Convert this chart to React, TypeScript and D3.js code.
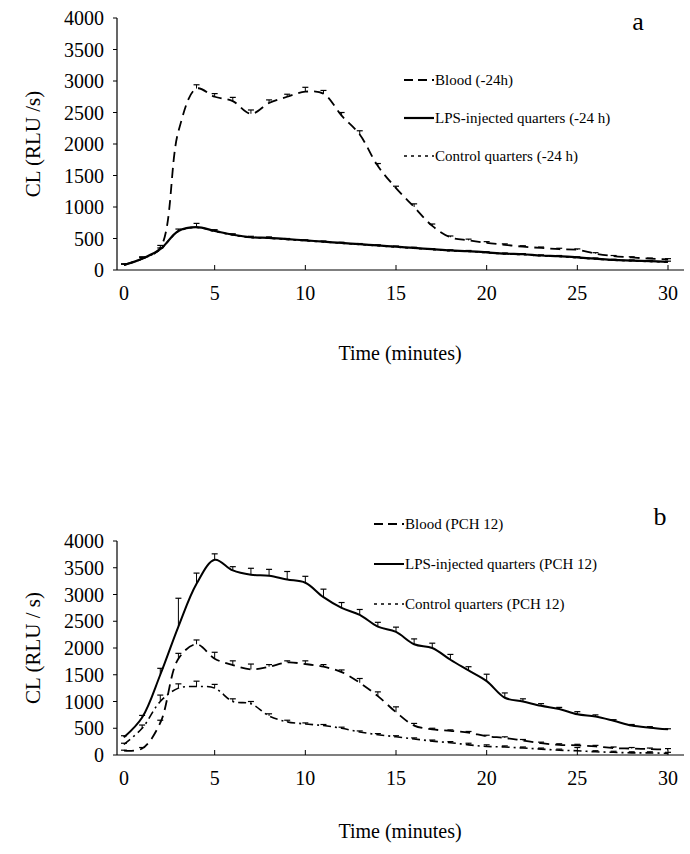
import React, { useEffect, useRef } from "react";
import * as d3 from "d3";

const minutes = d3.range(0, 31);

const bloodA = [80, 180, 350, 2200, 2880, 2750, 2680, 2480, 2650, 2750, 2830, 2800, 2450, 2150, 1650, 1300, 1000, 700, 520, 470, 430, 400, 370, 350, 330, 320, 260, 220, 200, 180, 170];
const bloodAErr = [20, 30, 40, 0, 60, 50, 60, 60, 50, 40, 70, 50, 50, 60, 40, 30, 50, 30, 20, 20, 20, 15, 15, 15, 15, 15, 15, 10, 10, 10, 10];
const lpsA = [80, 180, 330, 620, 680, 620, 560, 520, 510, 490, 470, 450, 430, 410, 390, 370, 350, 330, 310, 300, 280, 260, 250, 230, 220, 200, 180, 160, 150, 140, 130];
const lpsAErr = [10, 20, 20, 30, 60, 20, 15, 15, 15, 10, 10, 10, 10, 10, 10, 10, 10, 10, 10, 10, 10, 10, 10, 10, 10, 10, 10, 10, 10, 10, 10];
const ctrlA = [80, 175, 325, 615, 675, 615, 555, 515, 505, 485, 465, 445, 425, 405, 385, 365, 345, 325, 305, 295, 275, 255, 245, 225, 215, 195, 175, 155, 145, 135, 125];

const lpsB = [330, 700, 1500, 2400, 3200, 3650, 3450, 3370, 3350, 3280, 3220, 2950, 2750, 2620, 2400, 2300, 2070, 2000, 1780, 1580, 1380, 1070, 1000, 920, 860, 760, 720, 640, 550, 510, 480];
const lpsBErr = [30, 40, 120, 530, 200, 110, 70, 120, 120, 150, 120, 150, 100, 100, 80, 90, 100, 90, 100, 70, 130, 90, 50, 40, 30, 50, 30, 20, 20, 20, 10];
const bloodB = [80, 120, 600, 1800, 2070, 1800, 1680, 1600, 1650, 1730, 1700, 1650, 1550, 1350, 1100, 800, 550, 480, 450, 420, 350, 320, 270, 220, 190, 180, 160, 130, 120, 110, 100];
const bloodBErr = [10, 20, 50, 100, 80, 120, 80, 100, 40, 30, 60, 40, 40, 80, 80, 100, 40, 20, 20, 20, 20, 20, 20, 20, 20, 20, 20, 20, 20, 20, 20];
const ctrlB = [200, 500, 1000, 1250, 1280, 1250, 1000, 960, 730, 620, 580, 550, 500, 430, 380, 340, 300, 260, 230, 190, 160, 150, 130, 110, 90, 80, 60, 50, 40, 40, 30];
const ctrlBErr = [20, 60, 120, 80, 100, 70, 50, 40, 40, 30, 20, 20, 20, 20, 20, 20, 20, 20, 20, 30, 30, 20, 20, 20, 20, 60, 20, 20, 20, 20, 20];

const xTicks = [0, 5, 10, 15, 20, 25, 30];
const yTicks = [0, 500, 1000, 1500, 2000, 2500, 3000, 3500, 4000];

function panel(svg, cfg) {
  const x = d3.scaleLinear().domain([0, 30]).range([124, 668]);
  const y = d3.scaleLinear().domain([0, 4000]).range([cfg.y0, cfg.y4000]);
  const g = svg.append("g");

  g.append("line").attr("x1", 117).attr("x2", 684).attr("y1", cfg.y0).attr("y2", cfg.y0).attr("stroke", "#000").attr("stroke-width", 1.2);
  g.append("line").attr("x1", 117).attr("x2", 117).attr("y1", cfg.y0).attr("y2", y(4000)).attr("stroke", "#000").attr("stroke-width", 1.2);

  yTicks.forEach((t) => {
    g.append("line").attr("x1", 113).attr("x2", 117).attr("y1", y(t)).attr("y2", y(t)).attr("stroke", "#000");
    g.append("text").attr("x", 104).attr("y", y(t) + 7).attr("text-anchor", "end")
      .attr("font-size", 20).text(t);
  });
  xTicks.forEach((t, i) => {
    if (i > 0) g.append("line").attr("x1", x(t)).attr("x2", x(t)).attr("y1", cfg.y0).attr("y2", cfg.y0 - 5).attr("stroke", "#000");
    g.append("text").attr("x", x(t)).attr("y", cfg.y0 + 30).attr("text-anchor", "middle")
      .attr("font-size", 20).text(t);
  });

  g.append("text").attr("x", 400).attr("y", cfg.y0 + cfg.xlabOff).attr("text-anchor", "middle")
    .attr("font-size", 20).text("Time (minutes)");
  const my = (y(0) + y(4000)) / 2;
  g.append("text").attr("transform", `translate(40,${my}) rotate(-90)`).attr("text-anchor", "middle")
    .attr("font-size", 21).text(cfg.ylabel);
  g.append("text").attr("x", cfg.letterX).attr("y", cfg.letterY).attr("text-anchor", "middle")
    .attr("font-size", 26).text(cfg.letter);

  const line = d3.line().curve(d3.curveCatmullRom.alpha(0.5)).x((d, i) => x(minutes[i])).y((d) => y(d));

  cfg.series.forEach((s) => {
    g.append("path").datum(s.values).attr("fill", "none").attr("stroke", "#000")
      .attr("stroke-width", s.width).attr("stroke-dasharray", s.dash).attr("d", line);
    if (s.err) {
      s.values.forEach((v, i) => {
        const e = s.err[i];
        if (!e) return;
        g.append("line").attr("x1", x(minutes[i])).attr("x2", x(minutes[i])).attr("y1", y(v)).attr("y2", y(v + e)).attr("stroke", "#000").attr("stroke-width", 1);
        g.append("line").attr("x1", x(minutes[i]) - 3).attr("x2", x(minutes[i]) + 3).attr("y1", y(v + e)).attr("y2", y(v + e)).attr("stroke", "#000").attr("stroke-width", 1.2);
      });
    }
  });

  cfg.series.forEach((s, i) => {
    const ly = cfg.legY + i * cfg.legGap;
    g.append("line").attr("x1", cfg.legX).attr("x2", cfg.legX + 30).attr("y1", ly).attr("y2", ly)
      .attr("stroke", "#000").attr("stroke-width", s.width).attr("stroke-dasharray", s.legDash);
    g.append("text").attr("x", cfg.legX + 31).attr("y", ly + 5).attr("font-size", 15).text(s.name);
  });
}

export default function App() {
  const ref = useRef(null);
  useEffect(() => {
    const svg = d3.select(ref.current);
    svg.selectAll("*").remove();
    panel(svg, {
      y0: 270, y4000: 18, ylabel: "CL (RLU /s)", letter: "a", letterX: 638, letterY: 30, xlabOff: 90,
      legX: 404, legY: 80, legGap: 38,
      series: [
        { name: "Blood (-24h)", values: bloodA, err: bloodAErr, width: 1.8, dash: "10,6", legDash: "9,5" },
        { name: "LPS-injected quarters (-24 h)", values: lpsA, err: lpsAErr, width: 2.2, dash: null, legDash: null },
        { name: "Control quarters (-24 h)", values: ctrlA, err: null, width: 1.6, dash: "3,4", legDash: "3,4" },
      ],
    });
    panel(svg, {
      y0: 755, y4000: 541, ylabel: "CL (RLU / s)", letter: "b", letterX: 660, letterY: 525, xlabOff: 83,
      legX: 374, legY: 524, legGap: 40,
      series: [
        { name: "Blood (PCH 12)", values: bloodB, err: bloodBErr, width: 1.8, dash: "10,6", legDash: "9,5" },
        { name: "LPS-injected quarters (PCH 12)", values: lpsB, err: lpsBErr, width: 2, dash: null, legDash: null },
        { name: "Control quarters (PCH 12)", values: ctrlB, err: ctrlBErr, width: 1.6, dash: "8,4,2,4", legDash: "3,4" },
      ],
    });
  }, []);
  return (
    <svg
      ref={ref}
      width={690}
      height={854}
      style={{ position: "absolute", left: 0, top: 0, display: "block", background: "#fff", fontFamily: "Liberation Serif, serif" }}
    />
  );
}
